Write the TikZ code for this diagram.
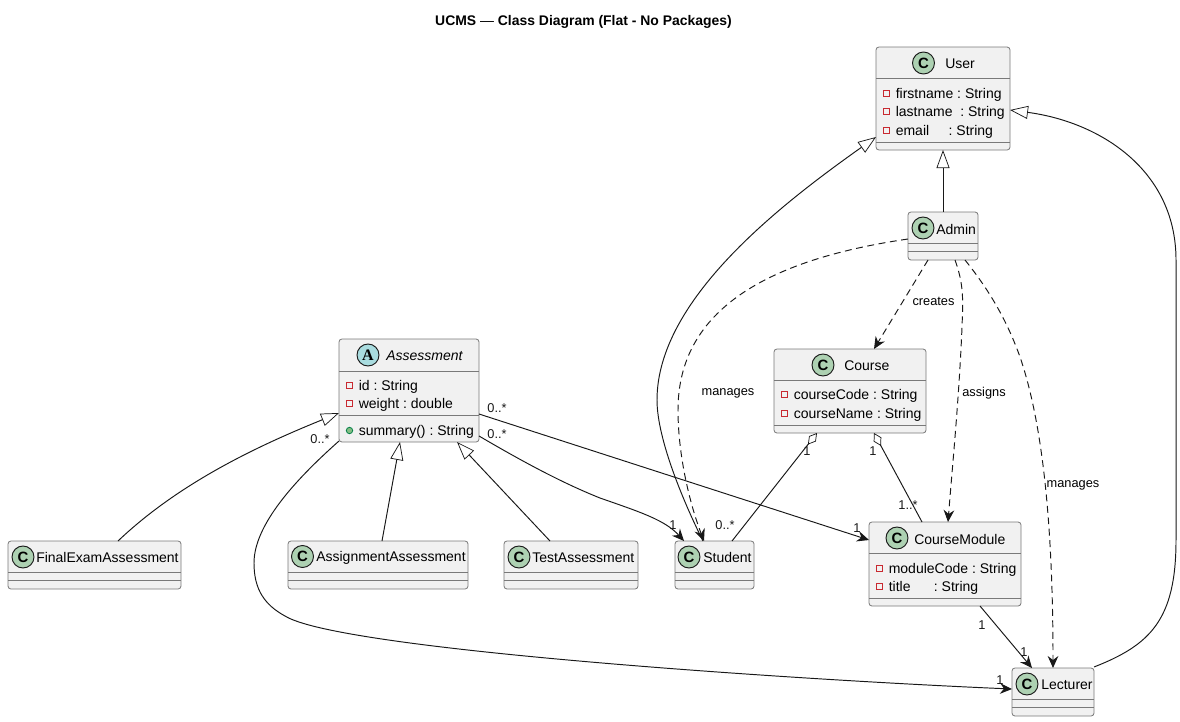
\documentclass[tikz,border=0pt]{standalone}
\usepackage{fontspec}
\setmainfont{Liberation Sans}
\newfontfamily\serifglyph{Liberation Serif}
\usetikzlibrary{arrows.meta,calc}
\definecolor{boxfill}{HTML}{F1F1F1}
\definecolor{boxline}{HTML}{181818}
\definecolor{clsfill}{HTML}{ADD1B2}
\definecolor{absfill}{HTML}{A9DCDF}
\definecolor{privred}{HTML}{C82930}
\definecolor{pubfill}{HTML}{84BE84}
\definecolor{publine}{HTML}{038048}
\tikzset{
  classbox/.style={draw=boxline!58,fill=boxfill,line width=0.6pt,rounded corners=2.2pt,inner sep=0,outer sep=0},
  sepline/.style={draw=boxline!58,line width=0.6pt},
  badge/.style={circle,draw=boxline,line width=0.7pt,minimum size=16.5pt,inner sep=0,font=\bfseries\fontsize{11.2}{12}\selectfont},
  nametext/.style={inner sep=0,anchor=west,font=\fontsize{10.5}{12}\selectfont},
  membertext/.style={inner sep=0,anchor=west,font=\fontsize{10.5}{12}\selectfont},
  privicon/.style={rectangle,draw=privred,fill=boxfill,line width=0.6pt,minimum size=4.6pt,inner sep=0},
  pubicon/.style={circle,draw=publine,fill=pubfill,line width=0.6pt,minimum size=4.8pt,inner sep=0},
  rel/.style={draw=boxline,line width=0.72pt},
  dep/.style={rel,dash pattern=on 5.2pt off 3.4pt},
  inherit/.style={rel,-{Triangle[open,length=13.5pt,width=9.75pt,line width=0.55pt]}},
  assoc/.style={-{Stealth[length=9pt,width=8pt,inset=3pt,fill=boxline]}},
  agg/.style={rel,{Diamond[open,length=11pt,width=6.5pt,line width=0.55pt]}-},
  lbl/.style={inner sep=0,text=boxline,font=\fontsize{9.6}{11}\selectfont},
  edgelbl/.style={inner sep=0,text=black,font=\fontsize{9.6}{11}\selectfont},
  titletext/.style={inner sep=0,font=\bfseries\fontsize{10.45}{12}\selectfont},
}
% name, x0, y0, x1, y1, sep1, sep2
\newcommand{\umlbox}[7]{%
  \pgfmathsetmacro{\bw}{(#4-#2)*0.75}%
  \pgfmathsetmacro{\bh}{(#5-#3)*0.75}%
  \node[classbox,minimum width=\bw pt,minimum height=\bh pt] (#1) at ({(#2+#4)/2},{(#3+#5)/2}) {};
  \draw[sepline] ($(#1.north west)+(0,#6-#3)$) -- ($(#1.north east)+(0,#6-#3)$);
  \draw[sepline] ($(#1.north west)+(0,#7-#3)$) -- ($(#1.north east)+(0,#7-#3)$);
}
\begin{document}
\frenchspacing
\begin{tikzpicture}[x=0.75pt,y=-0.75pt]
\useasboundingbox (0,0) rectangle (1180,721);
\node[titletext] (title) at (583.5,21.5) {UCMS {\mdseries —} Class Diagram (Flat - No Packages)};

\umlbox{user}{876}{47}{1010}{150}{78}{142}
\umlbox{admin}{908}{212}{978}{260}{243}{251}
\umlbox{course}{774}{349}{926}{433}{380}{425}
\umlbox{assess}{339}{339}{479}{442}{371}{415}
\umlbox{final}{8}{541}{181}{589}{572}{580}
\umlbox{assign}{288}{541}{468}{589}{572}{580}
\umlbox{testa}{504}{541}{638}{589}{572}{580}
\umlbox{student}{675}{541}{754}{589}{572}{580}
\umlbox{module}{869}{522}{1021}{606}{553}{598}
\umlbox{lecturer}{1012}{668}{1094}{716}{699}{707}

% class badges and names
\node[badge,fill=clsfill] (userb) at (923.5,63) {C};
\node[nametext] (usern) at (945,64) {User};
\node[badge,fill=clsfill] (adminb) at (923,228) {C};
\node[nametext] (adminn) at (936,229) {Admin};
\node[badge,fill=clsfill] (courseb) at (823,365) {C};
\node[nametext] (coursen) at (844,366) {Course};
\node[badge,fill=absfill,font=\serifglyph\bfseries\fontsize{12}{12}\selectfont] (assessb) at (368,355) {A};
\node[nametext,font=\itshape\fontsize{10.5}{12}\selectfont] (assessn) at (386,356) {Assessment};
\node[badge,fill=clsfill] (finalb) at (23,557) {C};
\node[nametext] (finaln) at (36,557.5) {FinalExamAssessment};
\node[badge,fill=clsfill] (assignb) at (302.5,556.5) {C};
\node[nametext] (assignn) at (316,557.5) {AssignmentAssessment};
\node[badge,fill=clsfill] (testb) at (519,557) {C};
\node[nametext] (testn) at (532,557.5) {TestAssessment};
\node[badge,fill=clsfill] (studentb) at (689,557) {C};
\node[nametext] (studentn) at (703,557.5) {Student};
\node[badge,fill=clsfill] (moduleb) at (897,538) {C};
\node[nametext] (modulen) at (914,539) {CourseModule};
\node[badge,fill=clsfill] (lecturerb) at (1027,684) {C};
\node[nametext] (lecturern) at (1041,684.5) {Lecturer};

% members
\node[privicon] (m1i) at (886.5,93.5) {};
\node[membertext] (m1) at (895.5,95) {firstname : String};
\node[privicon] (m2i) at (886.5,111.5) {};
\node[membertext] (m2) at (895.5,113) {lastname~~: String};
\node[privicon] (m3i) at (886.5,130.5) {};
\node[membertext] (m3) at (895.5,132) {email~~~~~: String};
\node[privicon] (m4i) at (784.5,394.5) {};
\node[membertext] (m4) at (793.5,396) {courseCode : String};
\node[privicon] (m5i) at (784.5,413.5) {};
\node[membertext] (m5) at (793.5,415) {courseName : String};
\node[privicon] (m6i) at (349.5,385) {};
\node[membertext] (m6) at (358.5,386.5) {id : String};
\node[privicon] (m7i) at (349.5,403.5) {};
\node[membertext] (m7) at (358.5,405) {weight : double};
\node[pubicon] (m8i) at (349.5,430.5) {};
\node[membertext] (m8) at (358.5,432) {summary() : String};
\node[privicon] (m9i) at (879.5,568) {};
\node[membertext] (m9) at (888.5,569.5) {moduleCode : String};
\node[privicon] (m10i) at (879.5,586.5) {};
\node[membertext] (m10) at (888.5,588) {title~~~~~~: String};

% connectors
\draw[inherit] ($(student.north west)+(28,0)$) .. controls (685,505) and (657,440) .. (657,400) .. controls (657,300) and (780,205) .. ($(user.north west)+(0,90)$);
\draw[inherit] ($(lecturer.north east)+(0,-1)$) .. controls (1150,645) and (1176,620) .. (1176,540) -- (1176,260) .. controls (1176,170) and (1100,122) .. ($(user.north east)+(0,63)$);
\draw[inherit] (admin.north-|user.south) -- (user.south);
\draw[inherit] ($(final.north west)+(110,0)$) .. controls (180,482) and (260,445) .. ($(assess.north west)+(0,74)$);
\draw[inherit] ($(assign.north west)+(94,0)$) -- ($(assess.south west)+(61,0)$);
\draw[inherit] ($(testa.north west)+(46,0)$) -- ($(assess.south west)+(118,0)$);

\draw[dep,assoc] ($(admin.north west)+(0,27)$) .. controls (750,262) and (678,320) .. (678,410) .. controls (678,460) and (692,510) .. ($(student.north west)+(29,0)$);
\draw[dep,assoc] ($(admin.south west)+(20,0)$) -- ($(course.north west)+(100,0)$);
\draw[dep,assoc] ($(admin.south west)+(47,0)$) .. controls (964,285) and (963,300) .. (962,327) .. controls (959,400) and (952,470) .. ($(module.north west)+(79,0)$);
\draw[dep,assoc] ($(admin.south west)+(57,0)$) .. controls (985,285) and (1005,315) .. (1020,357) .. controls (1045,430) and (1053,540) .. ($(lecturer.north west)+(41,0)$);

\draw[agg] ($(course.south west)+(43,0)$) -- ($(student.north west)+(57,0)$);
\draw[agg] ($(course.south west)+(100,0)$) -- ($(module.north west)+(53,0)$);

\draw[rel,assoc] ($(assess.north east)+(0,75)$) -- ($(module.north west)+(0,18)$);
\draw[rel,assoc] ($(assess.north east)+(0,97)$) .. controls (520,460) and (560,482) .. (600,498) .. controls (640,512) and (665,520) .. ($(student.north west)+(9,0)$);
\draw[rel,assoc] ($(assess.south west)+(0,-1)$) .. controls (295,480) and (254,525) .. (254,563) .. controls (254,590) and (265,605) .. (285,616) .. controls (340,650) and (800,680) .. ($(lecturer.north west)+(0,21)$);
\draw[rel,assoc] ($(module.south west)+(111,0)$) -- ($(lecturer.north west)+(20,0)$);

% labels
\node[edgelbl] (l1) at (728,393.5) {manages};
\node[edgelbl] (l2) at (933.5,301) {creates};
\node[edgelbl] (l3) at (984,393.5) {assigns};
\node[edgelbl] (l4) at (1073,485.5) {manages};
\node[lbl] (c1) at (497,408) {0..*};
\node[lbl] (c2) at (497,434) {0..*};
\node[lbl] (c3) at (320,439) {0..*};
\node[lbl] (c4) at (673,525) {1};
\node[lbl] (c5) at (857,528) {1};
\node[lbl] (c6) at (1000,680) {1};
\node[lbl] (c7) at (807,451) {1};
\node[lbl] (c8) at (873,451) {1};
\node[lbl] (c9) at (725,525) {0..*};
\node[lbl] (c10) at (908,505) {1..*};
\node[lbl] (c11) at (982,625) {1};
\node[lbl] (c12) at (1024,652) {1};
\end{tikzpicture}
\end{document}
